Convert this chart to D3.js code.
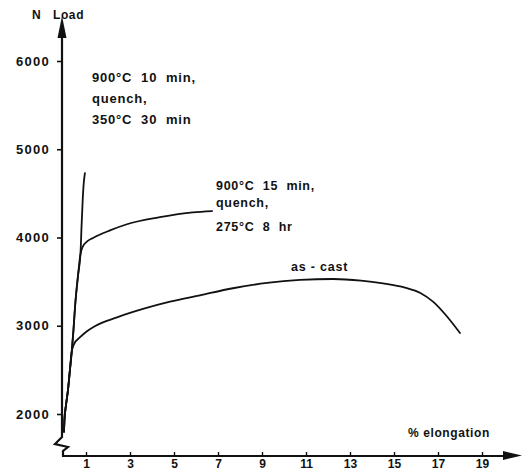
<!DOCTYPE html>
<html><head><meta charset="utf-8">
<script src="https://cdn.jsdelivr.net/npm/d3@7"></script>
<style>
html,body{margin:0;padding:0;background:#fff;}
svg{display:block;}
text{font-family:"Liberation Sans",Arial,sans-serif;font-weight:bold;fill:#111;}
</style></head>
<body>
<script>
// ---- data ----
const xTicks = [1,3,5,7,9,11,13,15,17,19];
const yTicks = [2000,3000,4000,5000,6000];
const curveQ350 = [[0,1800],[0.02,1930],[0.09,2100],[0.18,2270],[0.27,2500],[0.35,2700],[0.43,2950],[0.5,3210],[0.64,3575],[0.75,3820],[0.8,4140],[0.85,4425],[0.89,4595],[0.95,4730]];
const curveQ275 = [[0,1800],[0.02,1930],[0.09,2100],[0.18,2270],[0.27,2500],[0.35,2700],[0.43,2950],[0.5,3210],[0.64,3575],[0.74,3800],[0.84,3890],[1.05,3955],[1.32,3995],[2.09,4080],[2.86,4150],[4.36,4230],[5.86,4285],[6.73,4300]];
const curveAsCast = [[0,1800],[0.02,1930],[0.09,2100],[0.18,2270],[0.27,2500],[0.34,2690],[0.45,2790],[0.73,2870],[1.0,2930],[1.4,2995],[2.41,3095],[3.59,3190],[4.82,3272],[6.18,3345],[7.68,3425],[9.23,3485],[10.73,3519],[12.23,3530],[13.5,3512],[14.5,3480],[15.5,3432],[16.2,3372],[16.8,3268],[17.4,3108],[18.0,2918]];
const labelQ350 = ["900°C  10  min,", "quench,", "350°C  30  min"];
const labelQ275 = ["900°C  15  min,", "quench,", "275°C  8  hr"];
const labelAsCast = "as - cast";
const xTitle = "% elongation";
const yTitleUnit = "N";
const yTitle = "Load";

const W = 528, H = 470;
const svg = d3.select("body").append("svg").attr("width", W).attr("height", H);

const x = d3.scaleLinear().domain([0, 19]).range([64, 482]);
const y = d3.scaleLinear().domain([2000, 6000]).range([414, 61]);

const axisX0 = 62, axisY0 = 456;

// axis lines with break and arrows
svg.append("path")
  .attr("d", `M${axisX0},34 L${axisX0},437 L55,444 L68,447 L63,451 L63,${axisY0} L506,${axisY0}`)
  .attr("fill", "none").attr("stroke", "#111").attr("stroke-width", 2.2).attr("stroke-linejoin", "miter");
svg.append("path").attr("d", `M${axisX0},16 L${axisX0-4.5},38 L${axisX0+4.5},38 Z`).attr("fill", "#111");
svg.append("path").attr("d", `M522,${axisY0-0.5} L503,${axisY0-5} L503,${axisY0+4} Z`).attr("fill", "#111");

// y axis ticks
const gy = svg.append("g").attr("transform", `translate(${axisX0},0)`)
  .call(d3.axisLeft(y).tickValues(yTicks).tickSize(5).tickPadding(7).tickFormat(d3.format("d")));
gy.select(".domain").remove();
gy.selectAll("line").attr("stroke", "#111").attr("stroke-width", 1.6);
gy.selectAll("text").attr("font-size", 13).attr("letter-spacing", 1.3).style("font-family", "Liberation Sans, Arial, sans-serif").style("font-weight", "bold").attr("fill", "#111");

// x axis ticks
const gx = svg.append("g").attr("transform", `translate(0,${axisY0})`)
  .call(d3.axisBottom(x).tickValues(xTicks).tickSize(-4).tickPadding(3));
gx.select(".domain").remove();
gx.selectAll("line").attr("stroke", "#111").attr("stroke-width", 1.4);
gx.selectAll("text").attr("font-size", 12).style("font-family", "Liberation Sans, Arial, sans-serif").style("font-weight", "bold").attr("fill", "#111");

// curves
const line = d3.line().x(d => x(d[0])).y(d => y(d[1])).curve(d3.curveMonotoneX);
[curveAsCast, curveQ275, curveQ350].forEach(c => {
  svg.append("path").datum(c).attr("d", line)
    .attr("fill", "none").attr("stroke", "#111").attr("stroke-width", 1.8)
    .attr("stroke-linecap", "round").attr("stroke-linejoin", "round");
});

// titles
svg.append("text").attr("x", 32).attr("y", 19).attr("font-size", 12).text(yTitleUnit);
svg.append("text").attr("x", 53).attr("y", 19).attr("font-size", 12).attr("letter-spacing", 0.6).text(yTitle);
svg.append("text").attr("x", 408).attr("y", 437).attr("font-size", 12).attr("letter-spacing", 0.6).text(xTitle);

// annotations
const bl1 = [82, 103, 124];
labelQ350.forEach((t, i) => {
  svg.append("text").attr("x", 92).attr("y", bl1[i]).attr("font-size", 13).attr("letter-spacing", 0.8)
    .style("white-space", "pre").text(t);
});
const bl2 = [190, 207, 231];
labelQ275.forEach((t, i) => {
  svg.append("text").attr("x", 216).attr("y", bl2[i]).attr("font-size", 12.5).attr("letter-spacing", 0.7)
    .style("white-space", "pre").text(t);
});
svg.append("text").attr("x", 291).attr("y", 271).attr("font-size", 12.5).attr("letter-spacing", 0.8)
  .style("white-space", "pre").text(labelAsCast);
</script>
</body></html>
